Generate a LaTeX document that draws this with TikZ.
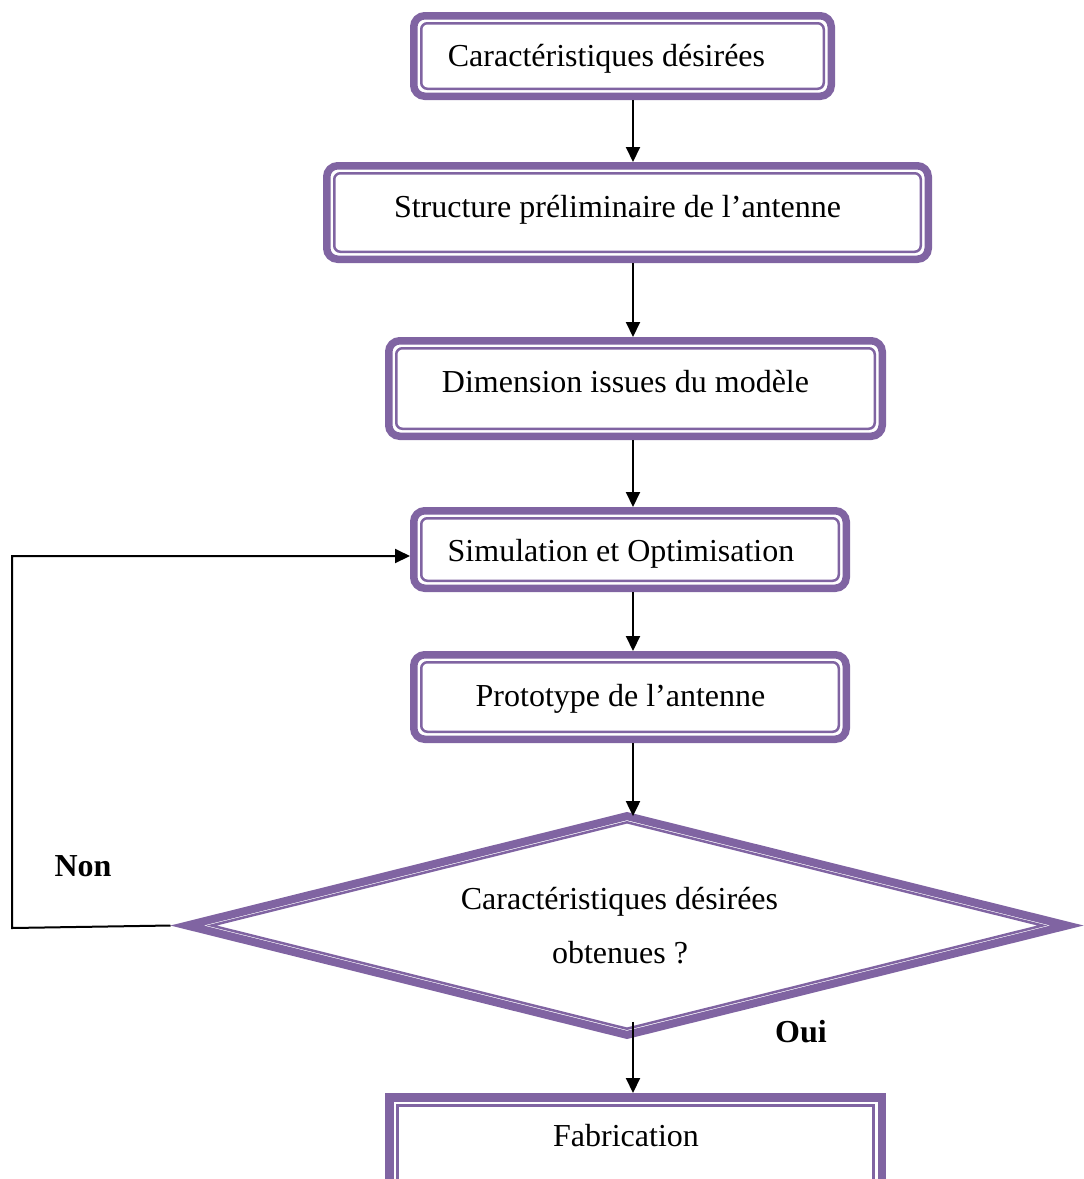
\documentclass[tikz,border=0pt]{standalone}
\usepackage{fontspec}
\setmainfont{Liberation Serif}
\usetikzlibrary{arrows.meta,calc,shapes.geometric}
\definecolor{boxviolet}{HTML}{8064A2}

% thin inner rule of a framed box, set inside the thick outer rule
\newcommand\innerframe[2][6pt]{%
  \draw[innerline, rounded corners=#1]
    ($(#2.north west)+(11.25pt,-11.25pt)$) rectangle
    ($(#2.south east)+(-11.25pt,11.25pt)$);}

\begin{document}
\begin{tikzpicture}[x=1pt,y=-1pt,
  txt/.style={anchor=base, inner sep=0pt, font=\fontsize{32}{38}\selectfont},
  boldtxt/.style={txt, font=\fontsize{32}{38}\selectfont\bfseries},
  stepframe/.style={rectangle, draw=boxviolet, line width=7.5pt,
    rounded corners=11pt, inner sep=0pt, outer sep=3.75pt},
  fabframe/.style={rectangle, draw=boxviolet, line width=8.5pt,
    inner sep=0pt, outer sep=4.25pt},
  innerline/.style={draw=boxviolet, line width=2.5pt},
  decision/.style={diamond, draw=boxviolet, line width=8pt,
    inner sep=0pt, outer sep=0pt, miter limit=20},
  flowarrow/.style={draw=black, line width=2pt,
    -{Triangle[width=14pt,length=15pt]}},
]
\useasboundingbox (0,0) rectangle (1084,1179);
\clip (0,0) rectangle (1084,1179);

% process boxes
\node[stepframe, minimum width=417.5pt, minimum height=80.5pt] (b1) at (622.5,56) {};
\innerframe{b1}
\node[txt] (t1) at (606.5,66) {Caractéristiques désirées};

\node[stepframe, minimum width=601.5pt, minimum height=93.5pt] (b2) at (627.5,212.5) {};
\innerframe{b2}
\node[txt] (t2) at (617.5,217) {Structure préliminaire de l’antenne};

\node[stepframe, minimum width=493.5pt, minimum height=95.5pt] (b3) at (635.5,388.5) {};
\innerframe{b3}
\node[txt] (t3) at (625.5,392) {Dimension issues du modèle};

\node[stepframe, minimum width=432.5pt, minimum height=77.5pt] (b4) at (630,549.5) {};
\innerframe{b4}
\node[txt] (t4) at (621,561) {Simulation et Optimisation};

\node[stepframe, minimum width=432.5pt, minimum height=84.5pt] (b5) at (630,697) {};
\innerframe{b5}
\node[txt] (t5) at (620.5,706) {Prototype de l’antenne};

% decision
\node[decision, minimum width=880pt, minimum height=218.8pt] (d) at (627,925.5) {};
\draw[innerline, line join=miter, miter limit=20]
  ($(d.west)+(24.5pt,0pt)$) -- ($(d.north)+(0pt,-6.2pt)$) --
  ($(d.east)+(-24.5pt,0pt)$) -- ($(d.south)+(0pt,6.2pt)$) -- cycle;
\node[txt] (t6a) at (619.5,909) {Caractéristiques désirées};
\node[txt] (t6b) at (620,963) {obtenues ?};

% final box, running off the bottom edge
\node[fabframe, minimum width=492.5pt, minimum height=113.5pt] (fab) at (635.5,1154) {};
\draw[innerline] ($(fab.north west)+(12.5pt,-12.5pt)$) rectangle ($(fab.south east)+(-12.5pt,12.5pt)$);
\node[txt] (t7) at (626,1146) {Fabrication};

% branch labels
\node[boldtxt] (non) at (83,876) {Non};
\node[boldtxt] (oui) at (801,1042) {Oui};

% connectors
\coordinate (ax) at (633,0);
\draw[flowarrow] (b1.south -| ax) -- (b2.north -| ax);
\draw[flowarrow] (b2.south -| ax) -- (b3.north -| ax);
\draw[flowarrow] (b3.south -| ax) -- (b4.north -| ax);
\draw[flowarrow] (b4.south -| ax) -- (b5.north -| ax);
\draw[flowarrow] (b5.south -| ax) -- (d.north -| ax);
\coordinate (dexit) at ($(d.south -| ax)+(0pt,13pt)$);
\draw[flowarrow] (dexit) -- (fab.north -| ax);

% "Non" loop back to the simulation step
\coordinate (dtip) at ($(d.west)+(-16.5pt,0pt)$);
\coordinate (c1) at (12,928);
\coordinate (c2) at (12,556);
\draw[flowarrow] (dtip) -- (c1) -- (c2) -- (b4.west |- c2);
\end{tikzpicture}
\end{document}
